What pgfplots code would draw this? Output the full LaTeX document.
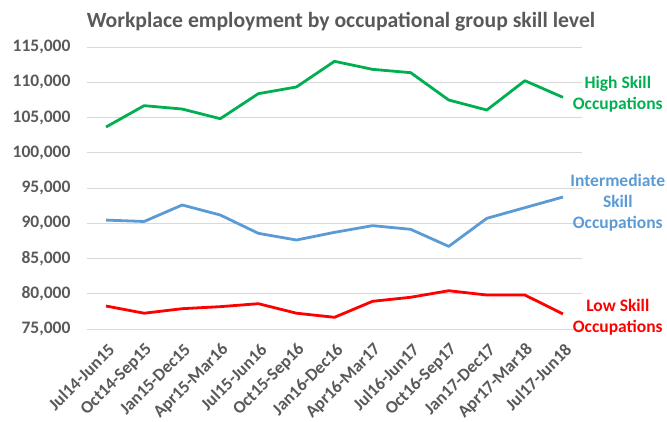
\documentclass[border=0pt]{standalone}
\usepackage{pgfplots}
\pgfplotsset{compat=1.18}
\usepackage{fontspec}
\setmainfont{Carlito}
\definecolor{txtgray}{HTML}{595959}
\definecolor{gridgray}{HTML}{D9D9D9}
\definecolor{hgreen}{HTML}{00B050}
\definecolor{iblue}{HTML}{5B9BD5}
\definecolor{lred}{HTML}{FF0000}
\begin{document}
\begin{tikzpicture}[x=1pt,y=1pt]
\useasboundingbox (0,0) rectangle (667,421);
\node[font=\bfseries\fontsize{21.7}{26}\selectfont, text=txtgray] at (341,399) {Workplace employment by occupational group skill level};
\begin{axis}[
  at={(87pt,92pt)}, anchor=south west,
  scale only axis, width=495pt, height=282pt,
  xmin=-0.5, xmax=12.5, ymin=75000, ymax=115000,
  scaled y ticks=false,
  ytick={75000,80000,...,115000},
  yticklabels={{75,000},{80,000},{85,000},{90,000},{95,000},{100,000},{105,000},{110,000},{115,000}},
  xtick={0,...,12},
  xticklabels={Jul14-Jun15,Oct14-Sep15,Jan15-Dec15,Apr15-Mar16,Jul15-Jun16,Oct15-Sep16,Jan16-Dec16,Apr16-Mar17,Jul16-Jun17,Oct16-Sep17,Jan17-Dec17,Apr17-Mar18,Jul17-Jun18},
  ymajorgrids, grid style={gridgray, line width=1pt},
  axis line style={draw=none},
  major tick length=0pt,
  tick label style={font=\bfseries\fontsize{17.5}{21}\selectfont, text=txtgray},
  xticklabel style={rotate=45, anchor=east, xshift=-5.4pt, yshift=-16.4pt},
  yticklabel style={xshift=-13pt},
  clip=false,
]
\addplot[hgreen, line width=2.8pt, line join=round] coordinates {
(0,103650) (1,106680) (2,106200) (3,104830) (4,108380) (5,109330) (6,112970) (7,111830) (8,111360) (9,107480) (10,106060) (11,110220) (12,107860)};
\addplot[iblue, line width=2.8pt, line join=round] coordinates {
(0,90450) (1,90250) (2,92590) (3,91170) (4,88570) (5,87620) (6,88710) (7,89660) (8,89140) (9,86720) (10,90700) (11,92210) (12,93720)};
\addplot[lred, line width=2.8pt, line join=round] coordinates {
(0,78260) (1,77240) (2,77880) (3,78170) (4,78590) (5,77240) (6,76660) (7,78930) (8,79500) (9,80430) (10,79820) (11,79820) (12,77130)};
\node[font=\bfseries\fontsize{17.5}{21}\selectfont, text=hgreen, align=center] at (axis cs:13.44,108330) {High Skill\\Occupations};
\node[font=\bfseries\fontsize{17.5}{21}\selectfont, text=iblue, align=center] at (axis cs:13.44,92870) {Intermediate\\Skill\\Occupations};
\node[font=\bfseries\fontsize{17.5}{21}\selectfont, text=lred, align=center] at (axis cs:13.44,76700) {Low Skill\\Occupations};
\end{axis}
\end{tikzpicture}
\end{document}
